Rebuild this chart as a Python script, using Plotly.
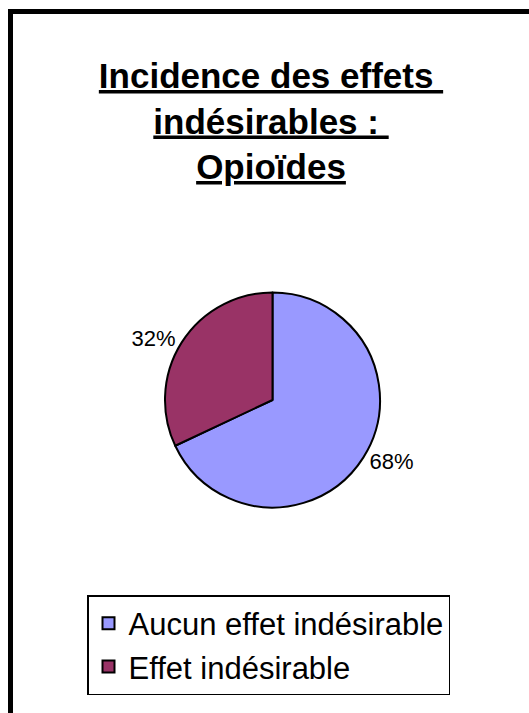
import plotly.graph_objects as go

W, H = 529, 713

title_lines = ["Incidence des effets ", "indésirables : ", "Opioïdes"]
categories = ["Aucun effet indésirable", "Effet indésirable"]
values = [68, 32]
colors = ["#9999FF", "#993366"]

title_text = "<br>".join(f"<b><u>{t}</u></b>" for t in title_lines)

fig = go.Figure(go.Pie(
    labels=categories,
    values=values,
    sort=False,
    direction="clockwise",
    rotation=0,
    marker=dict(colors=colors, line=dict(color="black", width=2)),
    textinfo="percent",
    texttemplate="%{percent:.0%}",
    textposition="outside",
    textfont=dict(size=22, color="black", family="Liberation Sans"),
    hoverinfo="skip",
    domain=dict(x=[165 / W, 380 / W], y=[1 - 507.5 / H, 1 - 292.5 / H]),
))

fig.update_layout(
    width=W, height=H,
    margin=dict(l=0, r=0, t=0, b=0),
    paper_bgcolor="white",
    plot_bgcolor="white",
    font=dict(family="Liberation Sans", color="black"),
    title=dict(
        text=title_text,
        x=271 / W, xanchor="center", xref="paper",
        y=1 - 88 / H, yanchor="top", yref="container",
        font=dict(size=35, color="black", family="Liberation Sans"),
    ),
    showlegend=True,
    legend=dict(
        x=87 / W, y=1 - 595 / H, xanchor="left", yanchor="top",
        bgcolor="white", bordercolor="black", borderwidth=1.5,
        font=dict(size=31, color="black", family="Liberation Sans"),
    ),
    shapes=[dict(
        type="rect", xref="paper", yref="paper",
        x0=10.5 / W, x1=1.2, y0=-0.2, y1=1 - 11.5 / H,
        line=dict(color="black", width=5), fillcolor="rgba(0,0,0,0)",
        layer="above",
    )],
)

fig.write_html("out.html")
